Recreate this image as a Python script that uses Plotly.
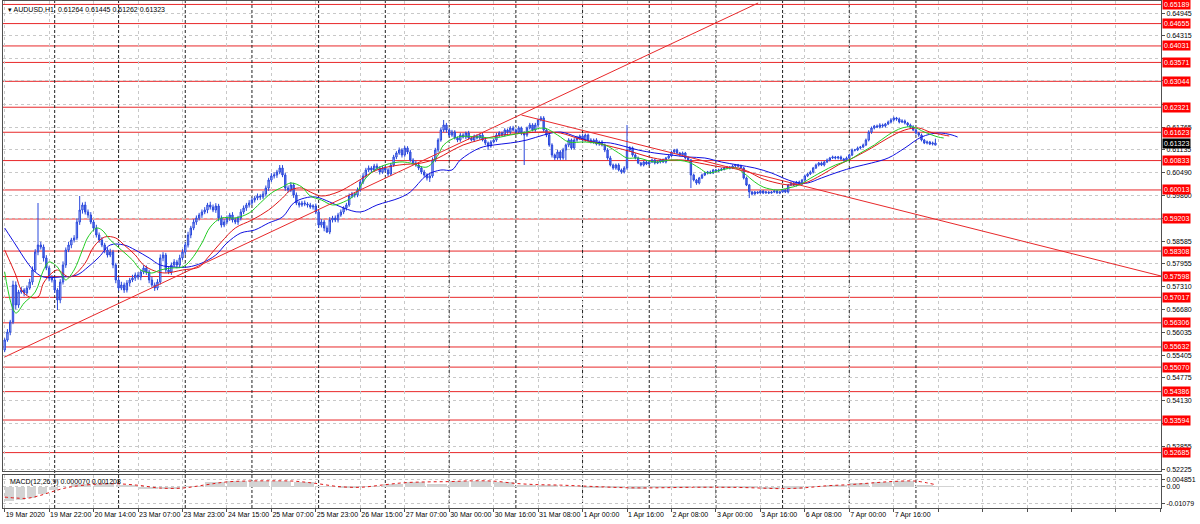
import plotly.graph_objects as go

# ---------------- data ----------------
closes = [
    0.55827, 0.56050, 0.56329, 0.57361, 0.56803, 0.57166, 0.57222, 0.57138, 0.57277, 0.57445,
    0.57780, 0.58282, 0.58477, 0.58421, 0.58115, 0.57835, 0.57556, 0.57501, 0.57222, 0.56943,
    0.57445, 0.57919, 0.58338, 0.58477, 0.58617, 0.58672, 0.59119, 0.59454, 0.59593, 0.59398,
    0.59314, 0.59119, 0.58951, 0.58756, 0.58617, 0.58477, 0.58338, 0.58198, 0.58282, 0.57919,
    0.57501, 0.57277, 0.57361, 0.57222, 0.57417, 0.57501, 0.57556, 0.57640, 0.57584, 0.57724,
    0.57835, 0.57724, 0.57501, 0.57361, 0.57277, 0.57445, 0.58115, 0.58198, 0.57780, 0.57724,
    0.57919, 0.58003, 0.57919, 0.58115, 0.58282, 0.58477, 0.58756, 0.58951, 0.59119, 0.59231,
    0.59314, 0.59398, 0.59454, 0.59593, 0.59537, 0.59454, 0.59565, 0.59231, 0.59035, 0.59119,
    0.59231, 0.59314, 0.59175, 0.59119, 0.59231, 0.59398, 0.59509, 0.59593, 0.59649, 0.59733,
    0.59788, 0.59844, 0.59816, 0.59900, 0.60067, 0.60291, 0.60402, 0.60430, 0.60514, 0.60626,
    0.60430, 0.60067, 0.60012, 0.60151, 0.59872, 0.59649, 0.59593, 0.59649, 0.59621, 0.59593,
    0.59537, 0.59565, 0.59398, 0.59035, 0.59119, 0.58951, 0.58840, 0.59175, 0.59231, 0.59175,
    0.59314, 0.59398, 0.59509, 0.59593, 0.59844, 0.59900, 0.59872, 0.60012, 0.60235, 0.60402,
    0.60570, 0.60626, 0.60570, 0.60681, 0.60626, 0.60514, 0.60626, 0.60570, 0.60458, 0.60709,
    0.60932, 0.61044, 0.61128, 0.60988, 0.61184, 0.61072, 0.60849, 0.60765, 0.60709, 0.60626,
    0.60514, 0.60430, 0.60347, 0.60402, 0.60849, 0.61128, 0.61407, 0.61686, 0.61825, 0.61686,
    0.61546, 0.61630, 0.61463, 0.61407, 0.61546, 0.61490, 0.61602, 0.61463, 0.61407, 0.61518,
    0.61463, 0.61546, 0.61407, 0.61323, 0.61239, 0.61351, 0.61407, 0.61546, 0.61602, 0.61546,
    0.61686, 0.61630, 0.61742, 0.61686, 0.61630, 0.61742, 0.61602, 0.61546, 0.61742, 0.61825,
    0.61686, 0.61825, 0.61965, 0.62021, 0.61686, 0.61546, 0.61267, 0.60988, 0.60905, 0.61072,
    0.60905, 0.61128, 0.61267, 0.61407, 0.61184, 0.61407, 0.61463, 0.61518, 0.61407, 0.61546,
    0.61407, 0.61351, 0.61407, 0.61295, 0.61351, 0.61267, 0.61128, 0.60905, 0.60709, 0.60626,
    0.60709, 0.60570, 0.60514, 0.60626, 0.61128, 0.61184, 0.60988, 0.60905, 0.60765, 0.60709,
    0.60793, 0.60737, 0.60793, 0.60849, 0.60765, 0.60793, 0.60849, 0.60793, 0.60905, 0.60960,
    0.61072, 0.61128, 0.61044, 0.60988, 0.61044, 0.60905, 0.60849, 0.60430, 0.60291, 0.60207,
    0.60347, 0.60430, 0.60486, 0.60514, 0.60486, 0.60570, 0.60542, 0.60570, 0.60598, 0.60626,
    0.60653, 0.60626, 0.60681, 0.60709, 0.60681, 0.60626, 0.60347, 0.60151, 0.59956, 0.59900,
    0.59956, 0.59928, 0.59984, 0.59928, 0.59956, 0.59928, 0.59956, 0.59984, 0.59928, 0.59956,
    0.60012, 0.59956, 0.60151, 0.60207, 0.60151, 0.60235, 0.60179, 0.60291, 0.60402, 0.60458,
    0.60514, 0.60626, 0.60709, 0.60765, 0.60709, 0.60793, 0.60849, 0.60905, 0.60932, 0.60905,
    0.60932, 0.60877, 0.60849, 0.60905, 0.60988, 0.61128, 0.61128, 0.61184, 0.61211, 0.61267,
    0.61407, 0.61630, 0.61742, 0.61797, 0.61769, 0.61825, 0.61797, 0.61853, 0.61909, 0.61965,
    0.62021, 0.61993, 0.61909, 0.61937, 0.61881, 0.61825, 0.61769, 0.61686, 0.61602, 0.61546,
    0.61407, 0.61323, 0.61351, 0.61295, 0.61323, 0.61323,
]
first_open = 0.55547
last_bar_ohlc = [0.61264, 0.61445, 0.61262, 0.61323]
# estimated wick lengths (upper / lower) of each hourly bar, in units of 0.0001
upper_wick = [
    5, 8, 6, 12, 10, 6, 8, 5, 7, 9,   10, 8, 0, 9, 7, 8, 6, 8, 7, 5,
    8, 10, 7, 9, 6, 8, 10, 0, 7, 9,   7, 8, 6, 9, 7, 8, 6, 7, 9, 6,
    6, 8, 9, 7, 8, 6, 9, 7, 8, 6,     8, 7, 6, 9, 7, 8, 10, 8, 6, 9,
    7, 8, 6, 9, 8, 7, 9, 6, 8, 7,     6, 7, 8, 6, 9, 7, 8, 6, 7, 8,
    7, 6, 8, 7, 6, 8, 7, 6, 8, 7,     6, 7, 5, 8, 7, 6, 8, 7, 6, 0,
    8, 6, 7, 8, 6, 7, 5, 6, 7, 5,     6, 5, 7, 6, 8, 6, 7, 8, 6, 7,
    6, 7, 5, 6, 7, 6, 5, 7, 6, 8,     6, 7, 5, 6, 7, 5, 6, 7, 5, 6,
    6, 5, 7, 5, 6, 5, 6, 5, 6, 5,     5, 6, 5, 6, 7, 6, 5, 7, 0, 6,
    5, 6, 5, 4, 6, 5, 4, 6, 5, 4,     5, 4, 6, 5, 4, 5, 4, 6, 5, 4,
    5, 4, 5, 6, 4, 5, 4, 5, 4, 6,     5, 6, 4, 0, 5, 4, 6, 5, 4, 6,
    5, 6, 4, 5, 4, 5, 6, 4, 5, 4,     4, 5, 4, 5, 4, 5, 4, 5, 6, 4,
    4, 5, 4, 5, 0, 5, 4, 5, 4, 3,     3, 4, 3, 4, 3, 4, 3, 4, 3, 4,
    4, 3, 4, 3, 4, 3, 4, 3, 4, 3,     3, 4, 3, 3, 4, 3, 3, 4, 3, 3,
    3, 3, 4, 3, 3, 4, 3, 4, 3, 3,     3, 2, 3, 2, 3, 2, 3, 2, 3, 2,
    3, 2, 3, 4, 3, 3, 4, 3, 4, 3,     4, 3, 4, 3, 4, 3, 4, 3, 4, 3,
    3, 4, 3, 4, 3, 4, 3, 4, 3, 4,     4, 5, 4, 3, 4, 5, 4, 3, 4, 5,
    4, 3, 4, 5, 4, 3, 4, 5, 4, 3,     4, 3, 4, 3, 4, 0,
]
lower_wick = [
    6, 5, 9, 6, 12, 8, 5, 9, 6, 5,    8, 6, 9, 7, 10, 6, 9, 7, 8, 0,
    9, 7, 8, 6, 9, 7, 6, 8, 10, 7,    8, 6, 9, 7, 8, 6, 9, 7, 6, 9,
    9, 7, 6, 8, 7, 9, 6, 8, 7, 9,     6, 8, 9, 7, 8, 6, 7, 9, 8, 6,
    8, 6, 9, 7, 6, 8, 7, 9, 6, 8,     7, 8, 6, 9, 7, 6, 8, 9, 7, 6,
    6, 8, 7, 6, 8, 7, 6, 8, 7, 6,     7, 6, 8, 6, 7, 8, 6, 7, 8, 6,
    6, 8, 7, 6, 8, 6, 7, 5, 6, 7,     5, 7, 6, 8, 7, 9, 0, 6, 7, 6,
    7, 5, 6, 7, 5, 6, 7, 6, 5, 6,     5, 6, 7, 5, 6, 7, 5, 6, 7, 5,
    5, 6, 5, 7, 5, 6, 5, 6, 5, 6,     6, 5, 7, 0, 5, 6, 7, 5, 6, 7,
    6, 5, 4, 6, 5, 4, 6, 5, 4, 5,     4, 5, 4, 6, 0, 5, 4, 5, 6, 4,
    4, 5, 6, 4, 5, 4, 6, 0, 5, 4,     4, 5, 6, 4, 5, 6, 5, 7, 6, 5,
    6, 5, 0, 6, 5, 4, 5, 6, 4, 5,     5, 4, 5, 4, 5, 4, 6, 5, 4, 5,
    5, 4, 5, 4, 5, 4, 5, 4, 3, 4,     4, 3, 4, 3, 4, 3, 4, 3, 4, 3,
    3, 4, 3, 4, 3, 4, 3, 0, 4, 5,     4, 3, 3, 4, 3, 3, 4, 3, 3, 4,
    3, 4, 3, 3, 4, 3, 4, 3, 0, 4,     2, 3, 2, 3, 2, 3, 2, 3, 2, 3,
    2, 3, 4, 3, 3, 4, 3, 3, 4, 3,     3, 4, 3, 4, 3, 4, 3, 4, 3, 4,
    4, 3, 4, 3, 4, 3, 4, 3, 4, 3,     3, 4, 5, 4, 3, 4, 5, 4, 3, 4,
    4, 5, 4, 3, 4, 5, 4, 3, 4, 5,     4, 3, 4, 3, 4, 0,
]
spike_bars = [0, 12, 19, 27, 99, 116, 153, 158, 174, 187, 193, 202, 224, 247, 268]
spike_prices = [0.55547, 0.59649, 0.56664, 0.59844, 0.60709, 0.58812, 0.60235, 0.61965,
                0.61128, 0.60709, 0.62076, 0.60849, 0.61825, 0.60067, 0.59788]

jaw_bars = [0, 4, 8, 11, 14, 20, 26, 30, 34, 38, 43, 47, 52, 56, 61, 66, 71, 76, 80, 85, 90, 95,
            100, 104, 108, 112, 117, 122, 128, 134, 142, 146, 152, 157, 161, 164, 171, 176, 182,
            188, 194, 200, 206, 212, 218, 224, 228, 234, 240, 246, 252, 258, 264, 270, 276, 282,
            286, 289, 294, 300, 306, 312, 318, 324, 330, 336, 341, 343]
jaw_vals = [0.58951, 0.58477, 0.58003, 0.57724, 0.57584, 0.57584, 0.57640, 0.57863, 0.58142,
            0.58477, 0.58477, 0.58338, 0.58115, 0.57919, 0.57863, 0.57863, 0.57975, 0.58198,
            0.58533, 0.58812, 0.58896, 0.59091, 0.59258, 0.59649, 0.59788, 0.59816, 0.59677,
            0.59509, 0.59398, 0.59593, 0.59788, 0.59956, 0.60430, 0.60570, 0.60570, 0.60849,
            0.61184, 0.61267, 0.61323, 0.61407, 0.61546, 0.61630, 0.61490, 0.61351, 0.61323,
            0.61211, 0.61128, 0.61044, 0.60988, 0.60932, 0.60905, 0.60793, 0.60709, 0.60626,
            0.60486, 0.60291, 0.60207, 0.60207, 0.60347, 0.60514, 0.60653, 0.60765, 0.60905,
            0.61184, 0.61490, 0.61602, 0.61546, 0.61490]

teeth_bars = [0, 4, 6, 9, 12, 14, 17, 19, 23, 25, 29, 32, 36, 40, 43, 47, 50, 54, 58, 64, 70, 73,
              78, 83, 89, 95, 100, 103, 107, 110, 114, 120, 126, 134, 142, 150, 156, 160, 165,
              171, 177, 183, 194, 200, 207, 213, 219, 226, 232, 238, 244, 250, 258, 264, 268,
              272, 278, 283, 288, 294, 300, 306, 312, 318, 324, 329, 333, 338, 340]
teeth_vals = [0.58338, 0.57640, 0.57222, 0.57026, 0.57026, 0.57417, 0.57696, 0.57780, 0.57584,
              0.57640, 0.57975, 0.58421, 0.58700, 0.58672, 0.58477, 0.58198, 0.57919, 0.57752,
              0.57696, 0.57780, 0.57863, 0.58115, 0.58561, 0.58951, 0.59175, 0.59454, 0.59788,
              0.60012, 0.60067, 0.59956, 0.59844, 0.59956, 0.60207, 0.60570, 0.60709, 0.60765,
              0.60905, 0.61072, 0.61267, 0.61407, 0.61518, 0.61574, 0.61630, 0.61602, 0.61435,
              0.61323, 0.61211, 0.61072, 0.60932, 0.60849, 0.60849, 0.60765, 0.60653, 0.60626,
              0.60514, 0.60347, 0.60207, 0.60151, 0.60207, 0.60430, 0.60709, 0.60932, 0.61184,
              0.61463, 0.61686, 0.61742, 0.61630, 0.61546, 0.61518]

lips_bars = [0, 4, 7, 11, 14, 16, 19, 21, 22, 25, 28, 30, 33, 35, 38, 42, 46, 49, 53, 56, 60, 64,
             67, 71, 74, 78, 83, 88, 92, 96, 100, 103, 107, 110, 114, 118, 122, 126, 130, 135,
             142, 146, 152, 156, 158, 163, 171, 176, 182, 188, 194, 199, 203, 209, 216, 221, 224,
             228, 234, 240, 246, 250, 253, 258, 263, 266, 270, 273, 278, 282, 286, 289, 294, 299,
             304, 308, 313, 318, 323, 327, 331, 336, 338]
lips_vals = [0.57724, 0.56580, 0.56859, 0.57166, 0.57780, 0.58003, 0.57863, 0.57584, 0.57501,
             0.57780, 0.58338, 0.58700, 0.58951, 0.58896, 0.58617, 0.58338, 0.58059, 0.57780,
             0.57696, 0.57780, 0.57835, 0.57863, 0.58059, 0.58533, 0.58979, 0.59231, 0.59231,
             0.59370, 0.59649, 0.59928, 0.60095, 0.60207, 0.60095, 0.59844, 0.59733, 0.59593,
             0.59677, 0.59872, 0.60347, 0.60653, 0.60793, 0.60765, 0.60653, 0.60988, 0.61267,
             0.61490, 0.61490, 0.61463, 0.61546, 0.61630, 0.61742, 0.61546, 0.61351, 0.61351,
             0.61267, 0.61044, 0.60905, 0.60905, 0.60793, 0.60849, 0.60793, 0.60626, 0.60486,
             0.60570, 0.60626, 0.60486, 0.60235, 0.60095, 0.60012, 0.60067, 0.60151, 0.60291,
             0.60514, 0.60709, 0.60849, 0.61044, 0.61267, 0.61546, 0.61742, 0.61769, 0.61630,
             0.61490, 0.61463]

level_prices = [0.65189, 0.64655, 0.64031, 0.63571, 0.63044, 0.62321, 0.61623, 0.60833, 0.60013,
                0.59203, 0.58308, 0.57598, 0.57017, 0.56306, 0.55632, 0.55070, 0.54386, 0.53594,
                0.52685]
current_price = 0.61323
price_ticks = [0.64945, 0.64315, 0.63685, 0.63055, 0.62410, 0.61765, 0.61135, 0.60490, 0.59860,
               0.59230, 0.58585, 0.57955, 0.57310, 0.56680, 0.56035, 0.55405, 0.54775, 0.54130,
               0.53500, 0.52855, 0.52225]
price_tick_text = ["0.64945", "0.64315", "", "", "", "0.61765", "0.61135", "0.60490", "0.59860",
                   "", "0.58585", "0.57955", "0.57310", "0.56680", "0.56035", "0.55405", "0.54775",
                   "0.54130", "", "0.52855", "0.52225"]

grid_bars = [0, 16, 32, 48, 64, 80, 96, 112, 128, 144, 160, 176, 192, 208, 224, 240, 256, 272,
             288, 304, 320, 336, 352, 368, 384, 400, 416]
x_labels = ["19 Mar 2020", "19 Mar 22:00", "20 Mar 14:00", "23 Mar 07:00", "23 Mar 23:00",
            "24 Mar 15:00", "25 Mar 07:00", "25 Mar 23:00", "26 Mar 15:00", "27 Mar 07:00",
            "30 Mar 00:00", "30 Mar 16:00", "31 Mar 08:00", "1 Apr 00:00", "1 Apr 16:00",
            "2 Apr 08:00", "3 Apr 00:00", "3 Apr 16:00", "6 Apr 08:00", "7 Apr 00:00",
            "7 Apr 16:00", "", "", "", "", "", ""]
day_start_bars = [18, 41, 65, 89, 113, 137, 160, 184, 208, 232, 256, 280, 304, 328]

trend_up_bars = [0, 271.2]
trend_up_prices = [0.55352, 0.65229]
trend_down_bars = [186, 416.2]
trend_down_prices = [0.62104, 0.57612]

macd_bars = [0, 4, 8, 12, 16, 20, 24, 32, 40, 48, 56, 64, 72, 80, 88, 96, 104, 112, 120, 128, 136,
             144, 152, 160, 168, 176, 184, 192, 200, 208, 216, 224, 232, 240, 248, 256, 264, 272,
             280, 288, 296, 304, 312, 320, 328, 335]
macd_main = [-0.0092, -0.0088, -0.0070, -0.0048, -0.0022, 0.0000, 0.0018, 0.0022, 0.0010,
             -0.0015, -0.0015, 0.0005, 0.0030, 0.0042, 0.0040, 0.0038, 0.0030, 0.0005, -0.0008,
             0.0005, 0.0020, 0.0030, 0.0020, 0.0040, 0.0038, 0.0030, 0.0015, 0.0012, 0.0003,
             -0.0005, -0.0008, -0.0010, -0.0008, -0.0003, -0.0008, -0.0005, -0.0004, -0.0015,
             -0.0012, 0.0005, 0.0015, 0.0025, 0.0035, 0.0036, 0.0015, 0.00007]
macd_signal = [-0.0069, -0.0075, -0.0077, -0.0062, -0.0040, -0.0018, -0.0002, 0.0014, 0.0018,
               0.0008, -0.0010, -0.0010, 0.0010, 0.0030, 0.0036, 0.0037, 0.0035, 0.0020, 0.0000,
               -0.0005, 0.0010, 0.0025, 0.0030, 0.0032, 0.0037, 0.0035, 0.0020, 0.0012, 0.0009,
               0.0003, -0.0003, -0.0008, -0.0009, -0.0007, -0.0005, -0.0005, -0.0006, -0.0010,
               -0.0014, -0.0008, 0.0005, 0.0012, 0.0023, 0.0033, 0.0035, 0.0012]
macd_ticks = [0.004851, 0.0, -0.01079]
macd_tick_text = ["0.004851", "0.00", "-0.01079"]

# ---------------- build OHLC ----------------
n = len(closes)
bars = list(range(n))
opens = [first_open] + closes[:-1]
highs = [max(o, c) + w * 0.0001 for o, c, w in zip(opens, closes, upper_wick)]
lows = [min(o, c) - w * 0.0001 for o, c, w in zip(opens, closes, lower_wick)]
for b, p in zip(spike_bars, spike_prices):
    highs[b] = max(highs[b], p)
    lows[b] = min(lows[b], p)
opens[-1], highs[-1], lows[-1], closes_last = last_bar_ohlc
closes = closes[:-1] + [closes_last]

# bar widths of the MACD histogram follow the spacing of the read samples
macd_widths = [b2 - b1 - 0.8 for b1, b2 in zip(macd_bars[:-1], macd_bars[1:])] + [6.2]

FONT = "Liberation Sans, Arial, sans-serif"
RED = "#e8282a"
BLUE = "#2a48dc"

fig = go.Figure()

fig.add_trace(go.Candlestick(
    x=bars, open=opens, high=highs, low=lows, close=closes,
    increasing=dict(line=dict(color=BLUE, width=1), fillcolor="#c3cdf4"),
    decreasing=dict(line=dict(color=BLUE, width=1), fillcolor="#5a72e4"),
    whiskerwidth=0, xaxis="x", yaxis="y", hoverinfo="skip", showlegend=False))

fig.add_trace(go.Scatter(x=jaw_bars, y=jaw_vals, mode="lines", line=dict(color="#1010e0", width=1, shape="spline"),
                         xaxis="x", yaxis="y", showlegend=False))
fig.add_trace(go.Scatter(x=teeth_bars, y=teeth_vals, mode="lines", line=dict(color="#e01818", width=1, shape="spline"),
                         xaxis="x", yaxis="y", showlegend=False))
fig.add_trace(go.Scatter(x=lips_bars, y=lips_vals, mode="lines", line=dict(color="#22cc22", width=1, shape="spline"),
                         xaxis="x", yaxis="y", showlegend=False))

fig.add_trace(go.Scatter(x=trend_up_bars, y=trend_up_prices, mode="lines", line=dict(color=RED, width=1),
                         xaxis="x", yaxis="y", showlegend=False))
fig.add_trace(go.Scatter(x=trend_down_bars, y=trend_down_prices, mode="lines", line=dict(color=RED, width=1),
                         xaxis="x", yaxis="y", showlegend=False))

# MACD panel
fig.add_trace(go.Bar(x=macd_bars, y=macd_main, width=macd_widths, offset=0,
                     marker=dict(color="#d3d3d3", line=dict(width=0)),
                     xaxis="x2", yaxis="y2", showlegend=False))
fig.add_trace(go.Scatter(x=macd_bars, y=macd_signal, mode="lines", line=dict(color="#e01818", width=1, dash="dot", shape="spline"),
                         xaxis="x2", yaxis="y2", showlegend=False))

for p in level_prices:
    fig.add_hline(y=p, line=dict(color=RED, width=1), xref="x", yref="y", layer="below")
for b in day_start_bars:
    fig.add_shape(type="line", x0=b, x1=b, y0=0, y1=1, xref="x", yref="paper",
                  line=dict(color="#202020", width=1, dash="3px,2px"), layer="below")

# level labels
for p in level_prices:
    fig.add_annotation(x=1, xref="paper", y=p, yref="y", xanchor="left", yanchor="middle",
                       text=f"{p:.5f}", showarrow=False, bgcolor="#ff0000",
                       font=dict(family=FONT, size=7, color="white"), borderpad=1, xshift=1)
fig.add_annotation(x=1, xref="paper", y=current_price, yref="y", xanchor="left", yanchor="middle",
                   text=f"{current_price:.5f}", showarrow=False, bgcolor="#000000",
                   font=dict(family=FONT, size=7, color="white"), borderpad=1, xshift=1)

fig.add_annotation(x=0, xref="paper", y=1, yref="paper", xanchor="left", yanchor="top",
                   text="▾ AUDUSD,H1  0.61264 0.61445 0.61262 0.61323", showarrow=False,
                   font=dict(family=FONT, size=7, color="#000"), xshift=3, yshift=-3)
fig.add_annotation(x=0, xref="paper", y=0.067, yref="paper", xanchor="left", yanchor="top",
                   text="MACD(12,26,9) 0.000070 0.001208", showarrow=False,
                   font=dict(family=FONT, size=7, color="#000"), xshift=5, yshift=-2)

grid_common = dict(showgrid=True, gridcolor="#c8c8c8", griddash="dot", gridwidth=1, zeroline=False,
                   showline=True, linecolor="#505050", linewidth=1, mirror=True, automargin=False)

fig.update_layout(
    width=1200, height=524,
    margin=dict(l=3, r=39, t=1, b=16, autoexpand=False),
    paper_bgcolor="white", plot_bgcolor="white",
    showlegend=False, bargap=0,
    xaxis=dict(domain=[0, 1], anchor="y", range=[-0.6, 416.2], tickvals=grid_bars,
               showticklabels=False, ticks="", rangeslider=dict(visible=False), **grid_common),
    yaxis=dict(domain=[0.073, 1], anchor="x", side="right", range=[0.52172, 0.65285],
               tickvals=price_ticks, ticktext=price_tick_text,
               tickfont=dict(family=FONT, size=7, color="#000"), ticks="outside", ticklen=3,
               tickcolor="#505050", **grid_common),
    xaxis2=dict(domain=[0, 1], anchor="y2", matches="x", tickvals=grid_bars, ticktext=x_labels,
                tickangle=0, ticklabelposition="outside right",
                tickfont=dict(family=FONT, size=7, color="#000"),
                ticks="outside", ticklen=3, tickcolor="#505050", **grid_common),
    yaxis2=dict(domain=[0, 0.066], anchor="x2", side="right", range=[-0.0140, 0.0078],
                tickvals=macd_ticks, ticktext=macd_tick_text,
                tickfont=dict(family=FONT, size=7, color="#000"), ticks="outside", ticklen=3,
                tickcolor="#505050", **grid_common),
)

fig.write_html("out.html", config={"displayModeBar": False},
               post_script="document.body.style.margin='0px';document.body.style.overflow='hidden';")
